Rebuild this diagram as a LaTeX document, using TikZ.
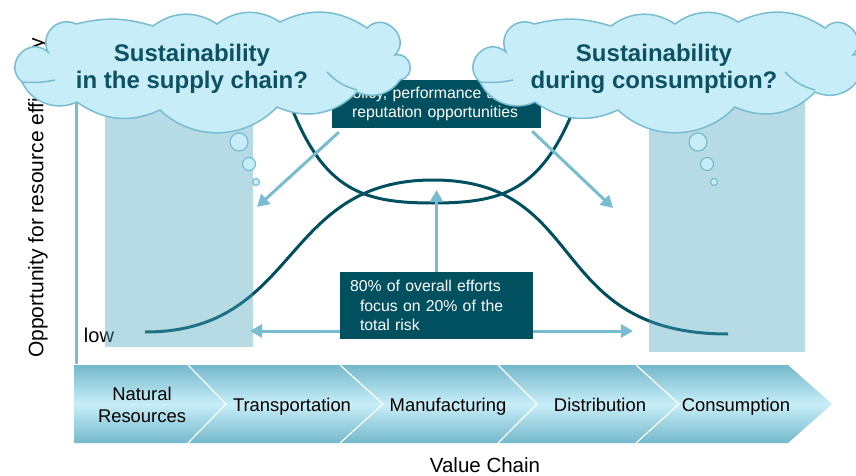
\documentclass[tikz,border=0pt]{standalone}
\usepackage{fontspec}
\setmainfont{Liberation Sans}
\usetikzlibrary{arrows.meta}
\definecolor{deepteal}{HTML}{00505F}
\definecolor{skyline}{HTML}{78BCD0}
\definecolor{cloudfill}{HTML}{C6EDF8}
\definecolor{cloudink}{HTML}{0C5262}
\definecolor{shadefill}{HTML}{4BA5BE}
\definecolor{barlight}{HTML}{C8EEF8}
\definecolor{bardark}{HTML}{74B8CC}
\tikzset{
    dark-box/.style = {fill=deepteal, text=white, inner sep=0pt, font=\fontsize{15.8}{19.5}\selectfont},
    hint-arrow/.style = {draw=skyline, line width=3pt, -{Triangle[length=12pt,width=13pt]}},
    trend-line/.style = {draw=deepteal, line width=3pt},
    focus-zone/.style = {fill=shadefill, fill opacity=0.4, draw=none},
    cloud-text/.style = {text=cloudink, font=\bfseries\fontsize{24}{27}\selectfont, align=center},
    bubble/.style = {circle, draw=skyline, fill=cloudfill, line width=1.2pt, inner sep=0pt},
    stage-label/.style = {font=\fontsize{18.4}{22}\selectfont, align=center},
    think-cloud/.pic = {
        \begin{scope}[y=1pt]
        \path[draw=skyline, fill=cloudfill, line width=1.5pt]
            (-189,-13) to[bend left=90, looseness=1.7] (-163,17)
            to[bend left=70, looseness=1.3] (-135,45)
            to[bend left=15] (-58,43)
            to[bend left=35] (6,45)
            to[bend left=35] (69,47)
            to[bend left=30] (156,41)
            to[bend left=90, looseness=1.6] (184,14)
            to[bend left=90, looseness=1.7] (189,-11)
            to[bend left=40] (146,-23)
            to[bend left=35] (66,-38)
            to[bend left=45] (-51,-41)
            to[bend left=30] (-134,-33)
            to[bend left=45] cycle;
        \draw[skyline, line width=1.5pt] (-189,-13) to[bend right=8] (-156,-11);
        \draw[skyline, line width=1.5pt] (146,-21) to[bend left=15] (116,-3);
        \end{scope}
    },
}

\begin{document}
\begin{tikzpicture}[x=1pt,y=-1pt]
\useasboundingbox (0,0) rectangle (856,476);
\clip (0,0) rectangle (856,476);

% axis
\draw[skyline, line width=3pt] (76,30) -- (76,364);
\node[rotate=90, font=\fontsize{21}{24}\selectfont] (yaxis-label) at (38,198) {Opportunity for resource efficiency};
\node[font=\fontsize{20}{24}\selectfont] (low-label) at (99,335) {low};

% the two curves
\draw[trend-line] (285,90) .. controls (320,190) and (360,203) .. (433,203)
                  .. controls (506,203) and (546,190) .. (581,90);
\draw[trend-line] (145,332) .. controls (300,332) and (280,180) .. (433,180)
                  .. controls (590,180) and (545,334) .. (728,334);

% shaded focus zones
\path[focus-zone] (105,100) rectangle (253,347);
\path[focus-zone] (649,100) rectangle (805,352);

% thought bubbles
\node[bubble, minimum size=18pt] (ls-1) at (239,142) {};
\node[bubble, minimum size=13pt] (ls-2) at (249,164) {};
\node[bubble, minimum size=7pt]  (ls-3) at (256,182) {};
\node[bubble, minimum size=18pt] (rs-1) at (698,142) {};
\node[bubble, minimum size=13pt] (rs-2) at (707,164) {};
\node[bubble, minimum size=7pt]  (rs-3) at (714,182) {};

% boxes
\node[dark-box, minimum width=209pt, minimum height=48pt, text width=189pt, inner xsep=10pt, align=left] (policy) at (436.5,104)
    {Policy, performance and\\\hspace*{10pt}reputation opportunities};
\node[dark-box, minimum width=193pt, minimum height=67pt, text width=173pt, inner xsep=10pt, align=left] (effort) at (436.5,305.5)
    {80\% of overall efforts\\\hspace*{10pt}focus on 20\% of the\\\hspace*{10pt}total risk};

% arrows
\coordinate (supply-tip) at (257,207);
\coordinate (consume-tip) at (613,208);
\coordinate (peak-tip) at (436.5,190);
\coordinate (left-tip) at (250,331);
\coordinate (right-tip) at (633,331);
\draw[hint-arrow] ([xshift=7pt,yshift=-4pt]policy.south west) -- (supply-tip);
\draw[hint-arrow] ([xshift=-9pt,yshift=-3pt]policy.south east) -- (consume-tip);
\draw[hint-arrow] (effort.north) -- (peak-tip);
\draw[hint-arrow] (effort.west |- left-tip) -- (left-tip);
\draw[hint-arrow] (effort.east |- right-tip) -- (right-tip);

% clouds
\pic (supply-cloud) at (211,69) {think-cloud};
\node[cloud-text] (supply-text) at (192,69) {Sustainability\\in the supply chain?};
\pic (consume-cloud) at (669,69) {think-cloud};
\node[cloud-text] (consume-text) at (654,69) {Sustainability\\during consumption?};

% value chain bar
\shade[top color=bardark, bottom color=bardark, middle color=barlight]
    (74,365) -- (788,365) -- (832,404) -- (788,443) -- (74,443) -- cycle;
\foreach \xa/\xb in {188/226, 340/383, 498/537, 636/679}
    \draw[white, line width=1.2pt] (\xa,365) -- (\xb,404) -- (\xa,443);
\node[stage-label] (stage1) at (142,405) {Natural\\Resources};
\foreach \xc/\txt [count=\i from 2] in {292/Transportation, 448/Manufacturing, 600/Distribution, 736/Consumption}
    \node[stage-label, anchor=base] (stage\i) at (\xc,411) {\txt};
\node[font=\fontsize{20.5}{24}\selectfont] (chain-label) at (485,465) {Value Chain};
\end{tikzpicture}
\end{document}
